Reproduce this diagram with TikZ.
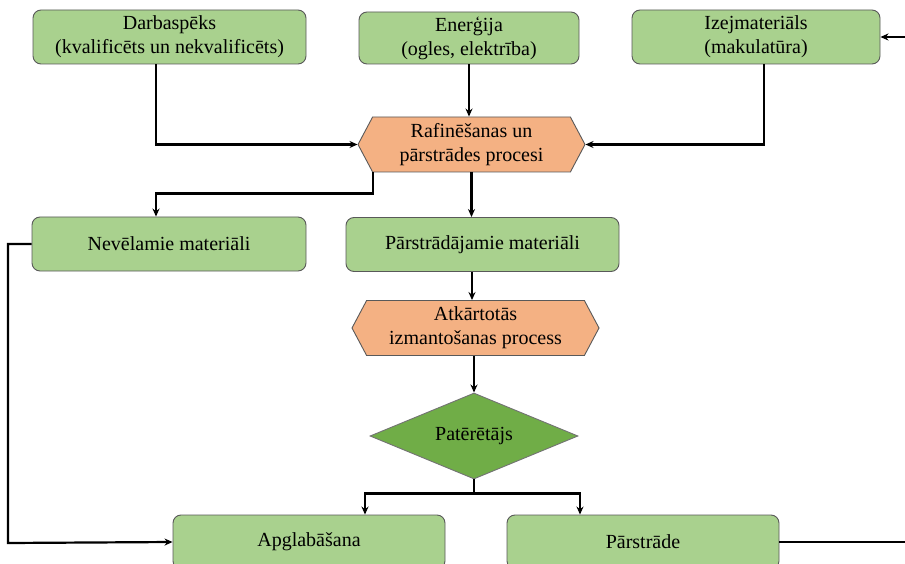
\documentclass[tikz,border=0pt]{standalone}
\usepackage{fontspec}
\setmainfont{Liberation Serif}
\newfontfamily\boxfont{Liberation Serif}
\usetikzlibrary{shapes.geometric,shapes.symbols,arrows.meta}
\definecolor{boxgreen}{HTML}{A9D18E}
\definecolor{procorange}{HTML}{F4B183}
\definecolor{usergreen}{HTML}{70AD47}
\tikzset{
  box/.style={rectangle, rounded corners=8pt, draw=black!65, line width=0.9pt, fill=boxgreen,
    minimum width=273pt, minimum height=54pt, align=center, inner sep=0pt,
    font=\boxfont\fontsize{20}{24}\selectfont},
  proc/.style={signal, signal to=west and east, signal pointer angle=124, draw=black!65,
    line width=0.9pt, fill=procorange, minimum height=55pt, align=center, inner sep=0pt,
    font=\boxfont\fontsize{20}{24}\selectfont},
  arr/.style={-{Stealth[length=8pt,width=7pt]}, line width=2.2pt, black}
}
\begin{document}
\begin{tikzpicture}[x=1pt,y=-1pt]
\useasboundingbox (0,0) rectangle (905,564);
\clip (0,0) rectangle (905,564);
\node[box] (darb) at (169.5,37) {Darbaspēks\\(kvalificēts un nekvalificēts)};
\node[box, minimum width=220pt, minimum height=52pt] (energ) at (469,38) {Enerģija\\(ogles, elektrība)};
\node[box, minimum width=248pt] (izej) at (756,37) {Izejmateriāls\\(makulatūra)};
\node[proc, minimum width=227pt] (raf) at (471.5,144.5) {Rafinēšanas un\\pārstrādes procesi};
\node[box, minimum width=274pt] (nevel) at (169,244) {Nevēlamie materiāli};
\node[box] (parm) at (482.5,244.5) {Pārstrādājamie materiāli};
\node[proc, minimum width=247pt] (atk) at (475.5,328) {Atkārtotās\\izmantošanas process};
\node[diamond, aspect=2.42, draw=black!55, line width=0.9pt, fill=usergreen, minimum width=208pt,
  minimum height=86pt, inner sep=0pt, font=\boxfont\fontsize{20}{24}\selectfont] (pat) at (474,436) {Patērētājs};
\node[box, minimum width=272pt] (apgl) at (309,542) {Apglabāšana};
\node[box, minimum width=272pt] (parst) at (643,542) {Pārstrāde};
\coordinate (lft) at (8,543);
\draw[arr] ([xshift=-13.5pt]darb.south) |- (raf.west);
\draw[arr] (energ.south) -- (energ.south |- raf.north);
\draw[arr] ([xshift=8pt]izej.south) |- (raf.east);
\draw[arr] ([xshift=-98.5pt]raf.south) -- ++(0,21) -| ([xshift=-13pt]nevel.north);
\draw[arr] (raf.south) -- (raf.south |- parm.north);
\draw[arr] ([xshift=-10.5pt]parm.south) -- ([xshift=-3.5pt]atk.north);
\draw[arr] ([xshift=-1.5pt]atk.south) -- (pat.north);
\draw[arr] (pat.south) -- ++(0,14) -| ([xshift=56pt]apgl.north);
\draw[arr] (pat.south) -- ++(0,14) -| ([xshift=-63pt]parst.north);
\draw[arr] (nevel.west) -| (lft) -- (apgl.west);
\draw[arr] (parst.east) -- ++(150,0) |- (izej.east);
\end{tikzpicture}
\end{document}
